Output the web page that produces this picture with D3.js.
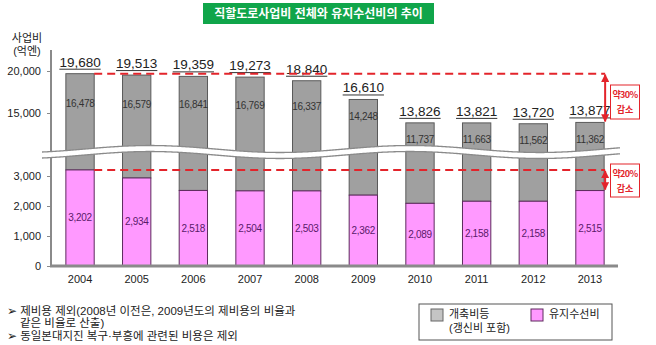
<!DOCTYPE html>
<html><head><meta charset="utf-8">
<script src="https://cdn.jsdelivr.net/npm/d3@7"></script>
<style>
body{margin:0;background:#fff;}
svg{display:block;font-family:"Liberation Sans","Noto Sans CJK KR",Arial,sans-serif;}
</style></head>
<body><svg id="c" width="656" height="345"></svg>
<script>
const years = ["2004","2005","2006","2007","2008","2009","2010","2011","2012","2013"];
const totals = [19680,19513,19359,19273,18840,16610,13826,13821,13720,13877];
const renewal = [16478,16579,16841,16769,16337,14248,11737,11663,11562,11362];
const maintenance = [3202,2934,2518,2504,2503,2362,2089,2158,2158,2515];
const upperTicks = [15000,20000];
const lowerTicks = [0,1000,2000,3000];
const title = "직할도로사업비 전체와 유지수선비의 추이";
const notes = ["➢ 제비용 제외(2008년 이전은, 2009년도의 제비용의 비율과","같은 비율로 산출)","➢ 동일본대지진 복구·부흥에 관련된 비용은 제외"];

const svg = d3.select("#c");
const fmt = d3.format(",");

const x = d3.scaleBand().domain(years).range([51.7,618.3]).paddingInner(0.5).paddingOuter(0.25);
const yU = d3.scaleLinear().domain([11000,20000]).range([146.6,71]);
const yL = d3.scaleLinear().domain([0,3000]).range([266,176]);
const bw = x.bandwidth();

// title
svg.append("rect").attr("x",203).attr("y",3).attr("width",231).attr("height",21).attr("fill","#10a54a");
svg.append("text").attr("x",318.5).attr("y",18).attr("text-anchor","middle").attr("fill","#fff")
  .attr("font-size",12).attr("font-weight","bold").text(title);

// y axis title
svg.append("text").attr("x",27).attr("y",42).attr("text-anchor","middle").attr("font-size",11).attr("fill","#222").text("사업비");
svg.append("text").attr("x",27).attr("y",55).attr("text-anchor","middle").attr("font-size",11).attr("fill","#222").text("(억엔)");

// bars
const g = svg.append("g");
years.forEach((yr,i)=>{
  const x0 = x(yr);
  const top = yU(totals[i]);
  const pTop = yL(maintenance[i]);
  g.append("rect").attr("x",x0).attr("y",top).attr("width",bw).attr("height",pTop-top)
    .attr("fill","#a0a0a0").attr("stroke","#5a5a5a").attr("stroke-width",1);
  g.append("rect").attr("x",x0).attr("y",pTop).attr("width",bw).attr("height",yL(0)-pTop)
    .attr("fill","#ff99ff").attr("stroke","#5e2a5e").attr("stroke-width",1);
});

// axes
svg.append("line").attr("x1",51).attr("x2",51).attr("y1",50).attr("y2",266).attr("stroke","#8a8a8a").attr("stroke-width",2);
const axU = svg.append("g").attr("transform","translate(51,0)").call(d3.axisLeft(yU).tickValues(upperTicks).tickFormat(fmt).tickSize(4).tickPadding(6));
const axL = svg.append("g").attr("transform","translate(51,0)").call(d3.axisLeft(yL).tickValues(lowerTicks).tickFormat(fmt).tickSize(4).tickPadding(6));
[axU,axL].forEach(a=>{
  a.select(".domain").remove();
  a.selectAll(".tick line").attr("stroke","#8a8a8a");
  a.selectAll(".tick text").attr("font-size",11).attr("fill","#222").attr("font-family","Liberation Sans, Arial, sans-serif");
});
svg.append("line").attr("x1",50).attr("x2",618).attr("y1",266).attr("y2",266).attr("stroke","#8a8a8a").attr("stroke-width",3);
const axX = svg.append("g").attr("transform","translate(0,266)").call(d3.axisBottom(x).tickSize(0).tickPadding(9));
axX.select(".domain").remove();
axX.selectAll(".tick text").attr("font-size",11).attr("fill","#222").attr("font-family","Liberation Sans, Arial, sans-serif");

// break wave
const wx = d3.range(42,621,2);
const wy = xx => 152 - 3.5*Math.cos(2*Math.PI*(xx-150)/260);
const area = d3.area().x(d=>d).y0(d=>wy(d)-3).y1(d=>wy(d)+3).curve(d3.curveBasis);
svg.append("path").datum(wx).attr("d",area).attr("fill","#fff");
const lineU = d3.line().x(d=>d).y(d=>wy(d)-3).curve(d3.curveBasis);
const lineD = d3.line().x(d=>d).y(d=>wy(d)+3).curve(d3.curveBasis);
svg.append("path").datum(wx).attr("d",lineU).attr("fill","none").attr("stroke","#8a8a8a").attr("stroke-width",1.3);
svg.append("path").datum(wx).attr("d",lineD).attr("fill","none").attr("stroke","#8a8a8a").attr("stroke-width",1.3);

// labels
years.forEach((yr,i)=>{
  const cx = x(yr)+bw/2;
  const top = yU(totals[i]);
  const pTop = yL(maintenance[i]);
  const t = svg.append("text").attr("x",cx).attr("y",top-7).attr("text-anchor","middle")
    .attr("font-size",13.5).attr("fill","#222").text(fmt(totals[i]));
  const bb = t.node().getBBox();
  svg.append("line").attr("x1",bb.x).attr("x2",bb.x+bb.width).attr("y1",top-4.5).attr("y2",top-4.5)
    .attr("stroke","#333").attr("stroke-width",1);
  const gy = Math.max((top+133)/2, top+17);
  svg.append("text").attr("x",cx).attr("y",gy+3.5).attr("text-anchor","middle")
    .attr("font-size",10).attr("letter-spacing",-0.3).attr("fill","#333").text(fmt(renewal[i]));
  svg.append("text").attr("x",cx).attr("y",(pTop+266)/2+3.5).attr("text-anchor","middle")
    .attr("font-size",10).attr("letter-spacing",-0.3).attr("fill","#5a1a6a").text(fmt(maintenance[i]));
});

// reference dashed lines & arrows
const red = "#e3242b";
const xs = x(years[0])+bw, xe = x(years[years.length-1])+bw+1;
const yRefU = yU(totals[0]), yRefL = yL(maintenance[0]);
[yRefU,yRefL].forEach(yy=>{
  svg.append("line").attr("x1",xs).attr("x2",xe).attr("y1",yy).attr("y2",yy)
    .attr("stroke",red).attr("stroke-width",2).attr("stroke-dasharray","8,5");
});
const defs = svg.append("defs");
defs.append("marker").attr("id","ah").attr("viewBox","0 0 10 10").attr("refX",9).attr("refY",5)
  .attr("markerWidth",4).attr("markerHeight",4).attr("orient","auto-start-reverse")
  .append("path").attr("d","M0,0L10,5L0,10z").attr("fill",red);
const ax = xe;
const last = years.length-1;
[[yRefU, yU(totals[last])],[yRefL, yL(maintenance[last])]].forEach(([a,b])=>{
  svg.append("line").attr("x1",ax).attr("x2",ax).attr("y1",a+1).attr("y2",b-1)
    .attr("stroke",red).attr("stroke-width",2).attr("marker-start","url(#ah)").attr("marker-end","url(#ah)");
});
[[85,34,"약30%"],[164,33,"약20%"]].forEach(([by,bh,txt])=>{
  svg.append("rect").attr("x",610.5).attr("y",by).attr("width",29).attr("height",bh)
    .attr("fill","#fff").attr("stroke",red).attr("stroke-width",1);
  svg.append("text").attr("x",625).attr("y",by+13).attr("text-anchor","middle").attr("font-size",9)
    .attr("font-family","Noto Sans CJK KR, sans-serif").attr("letter-spacing",-0.6).attr("font-weight","bold").attr("fill",red).text(txt);
  svg.append("text").attr("x",625).attr("y",by+28).attr("text-anchor","middle").attr("font-size",9)
    .attr("font-family","Noto Sans CJK KR, sans-serif").attr("font-weight","bold").attr("fill",red).text("감소");
});

// notes
svg.append("text").attr("x",7).attr("y",315).attr("font-size",11.5).attr("fill","#222").text(notes[0]);
svg.append("text").attr("x",20).attr("y",327).attr("font-size",11.5).attr("fill","#222").text(notes[1]);
svg.append("text").attr("x",7).attr("y",340).attr("font-size",11.5).attr("fill","#222").text(notes[2]);

// legend
svg.append("rect").attr("x",419).attr("y",304).attr("width",193).attr("height",36).attr("fill","#fff").attr("stroke","#555");
svg.append("rect").attr("x",431).attr("y",309).attr("width",12).attr("height",12).attr("fill","#c4c4c4").attr("stroke","#666");
svg.append("text").attr("x",449).attr("y",318).attr("font-size",11).attr("fill","#222").text("개축비등");
svg.append("text").attr("x",449).attr("y",332).attr("font-size",11).attr("fill","#222").text("(갱신비 포함)");
svg.append("rect").attr("x",531).attr("y",309).attr("width",12).attr("height",12).attr("fill","#ff99ff").attr("stroke","#5e2a5e");
svg.append("text").attr("x",549).attr("y",318).attr("font-size",11).attr("fill","#222").text("유지수선비");
</script></body></html>
